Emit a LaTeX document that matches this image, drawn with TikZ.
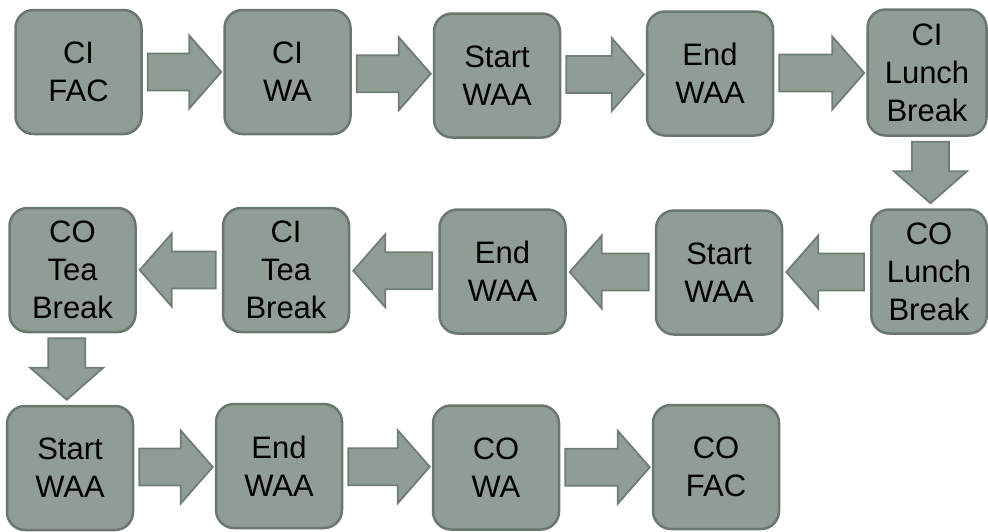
\documentclass[tikz,border=0pt]{standalone}
\usepackage{fontspec}
\setmainfont{Liberation Sans}
\usetikzlibrary{calc}
\definecolor{boxfill}{RGB}{143,157,148}
\definecolor{boxline}{RGB}{106,119,111}
\definecolor{arrline}{RGB}{112,125,116}
\tikzset{
  stepbox/.style={draw=boxline, fill=boxfill, line width=2.5pt, rounded corners=18pt,
    minimum width=126pt, minimum height=124pt, align=center, inner sep=0pt,
    font=\fontsize{31}{38}\selectfont},
  barrow/.style={draw=arrline, fill=boxfill, line width=1.8pt, line join=miter}
}
% right-pointing block arrow between two nodes
\newcommand\arrR[2]{%
  \draw[barrow] let \p1=(#1.east), \p2=(#2.west),
    \n1={(\y1+\y2)/2}, \n2={\x1+5}, \n3={\x2-2} in
    ({\n2},{\n1+18.5}) -- ({\n3-32},{\n1+18.5}) -- ({\n3-32},{\n1+36.5}) --
    ({\n3},{\n1}) -- ({\n3-32},{\n1-36.5}) -- ({\n3-32},{\n1-18.5}) --
    ({\n2},{\n1-18.5}) -- cycle;}
% left-pointing block arrow
\newcommand\arrL[2]{%
  \draw[barrow] let \p1=(#1.west), \p2=(#2.east),
    \n1={(\y1+\y2)/2}, \n2={\x1-6}, \n3={\x2+3} in
    ({\n2},{\n1+18.5}) -- ({\n3+32},{\n1+18.5}) -- ({\n3+32},{\n1+36.5}) --
    ({\n3},{\n1}) -- ({\n3+32},{\n1-36.5}) -- ({\n3+32},{\n1-18.5}) --
    ({\n2},{\n1-18.5}) -- cycle;}
% down-pointing block arrow, #3 = horizontal offset
\newcommand\arrD[3]{%
  \draw[barrow] let \p1=(#1.south), \p2=(#2.north),
    \n1={(\x1+\x2)/2+#3}, \n2={\y1-5}, \n3={\y2+5} in
    ({\n1-18.5},{\n2}) -- ({\n1-18.5},{\n3+32}) -- ({\n1-36.5},{\n3+32}) --
    ({\n1},{\n3}) -- ({\n1+36.5},{\n3+32}) -- ({\n1+18.5},{\n3+32}) --
    ({\n1+18.5},{\n2}) -- cycle;}
\begin{document}
\begin{tikzpicture}[x=1pt,y=1pt]
\useasboundingbox (0,0) rectangle (988,-531);
% row 1
\node[stepbox] (b1) at (78.5,-72) {CI\\FAC};
\node[stepbox] (b2) at (287.5,-72) {CI\\WA};
\node[stepbox] (b3) at (497,-75.5) {Start\\WAA};
\node[stepbox] (b4) at (710,-73.5) {End\\WAA};
\node[stepbox, minimum width=119pt, minimum height=126pt] (b5) at (927,-72.5) {CI\\Lunch\\Break};
% row 2
\node[stepbox, minimum width=115.5pt] (b6) at (929,-271.5) {CO\\Lunch\\Break};
\node[stepbox] (b7) at (719,-272.5) {Start\\WAA};
\node[stepbox] (b8) at (502.5,-271.5) {End\\WAA};
\node[stepbox] (b9) at (286,-270) {CI\\Tea\\Break};
\node[stepbox] (b10) at (72.5,-270) {CO\\Tea\\Break};
% row 3
\node[stepbox] (b11) at (70,-468) {Start\\WAA};
\node[stepbox] (b12) at (279,-466) {End\\WAA};
\node[stepbox] (b13) at (496,-467.5) {CO\\WA};
\node[stepbox] (b14) at (716,-467) {CO\\FAC};
% connectors
\arrR{b1}{b2}
\arrR{b2}{b3}
\arrR{b3}{b4}
\arrR{b4}{b5}
\arrD{b5}{b6}{2.5}
\arrL{b6}{b7}
\arrL{b7}{b8}
\arrL{b8}{b9}
\arrL{b9}{b10}
\arrD{b10}{b11}{-4.5}
\arrR{b11}{b12}
\arrR{b12}{b13}
\arrR{b13}{b14}
\end{tikzpicture}
\end{document}
